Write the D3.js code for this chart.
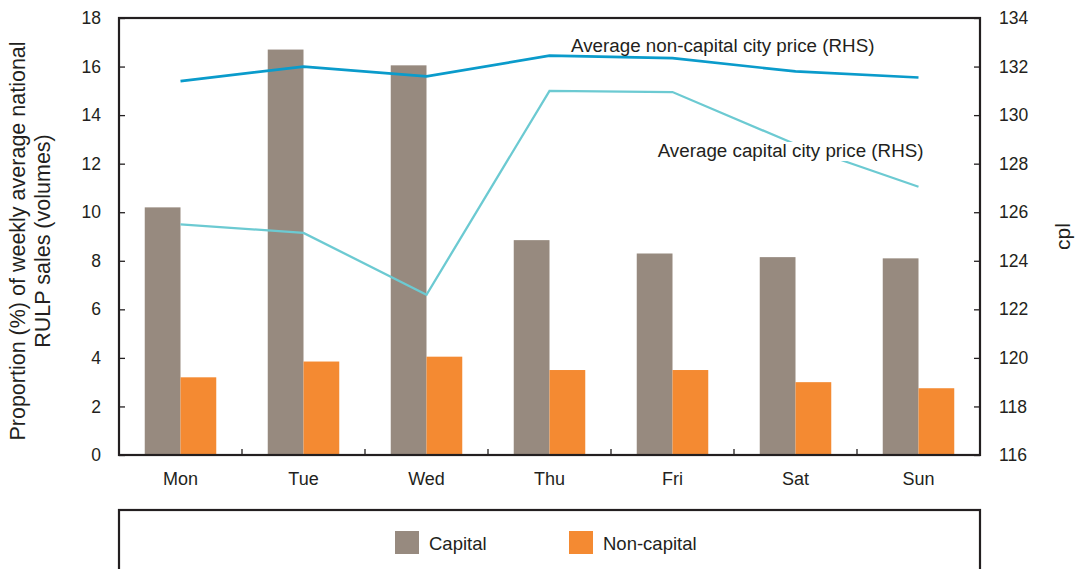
<!DOCTYPE html>
<html>
<head>
<meta charset="utf-8">
<script src="https://cdn.jsdelivr.net/npm/d3@7"></script>
<style>
  body { margin: 0; background: #fff; }
  svg text { font-family: "Liberation Sans", Arial, sans-serif; fill: #231f20; }
</style>
</head>
<body>
<div id="chart"></div>
<script>
// days, volume shares (LHS, %) and prices (RHS, cpl)
var days = ["Mon", "Tue", "Wed", "Thu", "Fri", "Sat", "Sun"];
var capitalShare = [10.2, 16.7, 16.05, 8.85, 8.3, 8.15, 8.1];
var nonCapitalShare = [3.2, 3.85, 4.05, 3.5, 3.5, 3.0, 2.75];
var capitalPrice = [125.5, 125.15, 122.6, 131.0, 130.95, 128.8, 127.05];
var nonCapitalPrice = [131.4, 132.0, 131.6, 132.45, 132.35, 131.8, 131.55];
var leftTicks = [0, 2, 4, 6, 8, 10, 12, 14, 16, 18];
var rightTicks = [116, 118, 120, 122, 124, 126, 128, 130, 132, 134];
var seriesNames = ["Capital", "Non-capital"];

(function () {
    "use strict";

    var width = 1077,
        height = 569,
        margin = {top: 18, right: 97, bottom: 114, left: 119};

    var ink = "#231f20",
        barColors = ["#978a7f", "#f48a32"],
        capLineColor = "#6ccad2",
        nonCapLineColor = "#0a9bcb";

    var plotW = width - margin.left - margin.right,
        plotH = height - margin.top - margin.bottom;

    var svg = d3.select("#chart").append("svg")
        .attr("width", width)
        .attr("height", height);

    var g = svg.append("g")
        .attr("transform", "translate(" + margin.left + "," + margin.top + ")");

    //Scales
    var x = d3.scaleBand().domain(days).range([0, plotW]);
    var xInner = d3.scaleBand().domain(seriesNames)
        .range([0, x.bandwidth()])
        .paddingOuter(0.72)
        .paddingInner(0);
    var yL = d3.scaleLinear().domain([0, 18]).range([plotH, 0]);
    var yR = d3.scaleLinear().domain([116, 134]).range([plotH, 0]);

    //Bars
    var rows = days.map(function (d, i) {
        return {day: d, vals: [capitalShare[i], nonCapitalShare[i]]};
    });

    var groups = g.selectAll("g.day")
        .data(rows)
        .enter().append("g")
        .attr("class", "day")
        .attr("transform", function (d) { return "translate(" + x(d.day) + ",0)"; });

    groups.selectAll("rect")
        .data(function (d) {
            return d.vals.map(function (v, j) { return {name: seriesNames[j], value: v, idx: j}; });
        })
        .enter().append("rect")
        .attr("x", function (d) { return xInner(d.name); })
        .attr("width", xInner.bandwidth())
        .attr("y", function (d) { return yL(d.value); })
        .attr("height", function (d) { return plotH - yL(d.value); })
        .attr("fill", function (d) { return barColors[d.idx]; });

    //Price lines (RHS)
    var line = d3.line()
        .x(function (d, i) { return x(days[i]) + x.bandwidth() / 2; })
        .y(function (d) { return yR(d); });

    g.append("path")
        .datum(capitalPrice)
        .attr("d", line)
        .attr("fill", "none")
        .attr("stroke", capLineColor)
        .attr("stroke-width", 2.3);

    g.append("path")
        .datum(nonCapitalPrice)
        .attr("d", line)
        .attr("fill", "none")
        .attr("stroke", nonCapLineColor)
        .attr("stroke-width", 2.7);

    //Line labels
    var capLabel = g.append("g");
    var capText = capLabel.append("text")
        .attr("x", x("Sun") + x.bandwidth() / 2 + 5)
        .attr("y", 139)
        .attr("text-anchor", "end")
        .style("font-size", "18.8px")
        .text("Average capital city price (RHS)");
    var bb = capText.node().getBBox();
    capLabel.insert("rect", "text")
        .attr("x", bb.x - 2)
        .attr("y", bb.y + 2)
        .attr("width", bb.width + 4)
        .attr("height", bb.height - 2)
        .attr("fill", "#fff");

    g.append("text")
        .attr("x", 452)
        .attr("y", 34)
        .style("font-size", "18.8px")
        .text("Average non-capital city price (RHS)");

    //Axes
    var axisL = g.append("g")
        .call(d3.axisLeft(yL).tickValues(leftTicks).tickSize(-6).tickPadding(18));
    var axisR = g.append("g")
        .attr("transform", "translate(" + plotW + ",0)")
        .call(d3.axisRight(yR).tickValues(rightTicks).tickSize(-6).tickPadding(19));
    var axisB = g.append("g")
        .attr("transform", "translate(0," + plotH + ")")
        .call(d3.axisBottom(x).tickSize(0).tickPadding(17));

    [axisL, axisR, axisB].forEach(function (a) {
        a.select(".domain").remove();
        a.selectAll("line").attr("stroke", ink).attr("stroke-width", 1.3);
        a.selectAll("text").style("font-size", "17.5px").attr("fill", ink)
            .style("font-family", "'Liberation Sans', Arial, sans-serif");
    });
    axisB.selectAll("text").style("font-size", "18px").attr("dy", "0.71em");

    //Category boundary ticks on the x axis
    g.append("g").selectAll("line")
        .data(days.slice(1))
        .enter().append("line")
        .attr("x1", function (d) { return x(d); })
        .attr("x2", function (d) { return x(d); })
        .attr("y1", plotH)
        .attr("y2", plotH - 6)
        .attr("stroke", ink)
        .attr("stroke-width", 1.3);

    //Plot frame
    g.append("rect")
        .attr("width", plotW)
        .attr("height", plotH)
        .attr("fill", "none")
        .attr("stroke", ink)
        .attr("stroke-width", 2.2);

    //Axis titles
    svg.append("text")
        .attr("transform", "translate(25,241) rotate(-90)")
        .attr("text-anchor", "middle")
        .style("font-size", "21.5px")
        .selectAll("tspan")
        .data(["Proportion (%) of weekly average national", "RULP sales (volumes)"])
        .enter().append("tspan")
        .attr("x", 0)
        .attr("dy", function (d, i) { return i === 0 ? 0 : 25; })
        .text(function (d) { return d; });

    svg.append("text")
        .attr("transform", "translate(1070," + (margin.top + plotH / 2) + ") rotate(-90)")
        .attr("text-anchor", "middle")
        .style("font-size", "21px")
        .text("cpl");

    //Legend box
    var legendY = margin.top + plotH + 55;
    svg.append("rect")
        .attr("x", margin.left)
        .attr("y", legendY)
        .attr("width", plotW)
        .attr("height", 120)
        .attr("fill", "none")
        .attr("stroke", ink)
        .attr("stroke-width", 2.2);

    var legendX = [395, 569];
    var legend = svg.selectAll("g.legend")
        .data(seriesNames)
        .enter().append("g")
        .attr("class", "legend")
        .attr("transform", function (d, i) { return "translate(" + legendX[i] + "," + (legendY + 21) + ")"; });

    legend.append("rect")
        .attr("width", 24)
        .attr("height", 23)
        .attr("fill", function (d, i) { return barColors[i]; });

    legend.append("text")
        .attr("x", 34)
        .attr("y", 19)
        .style("font-size", "18.5px")
        .text(function (d) { return d; });
})();
</script>
</body>
</html>
